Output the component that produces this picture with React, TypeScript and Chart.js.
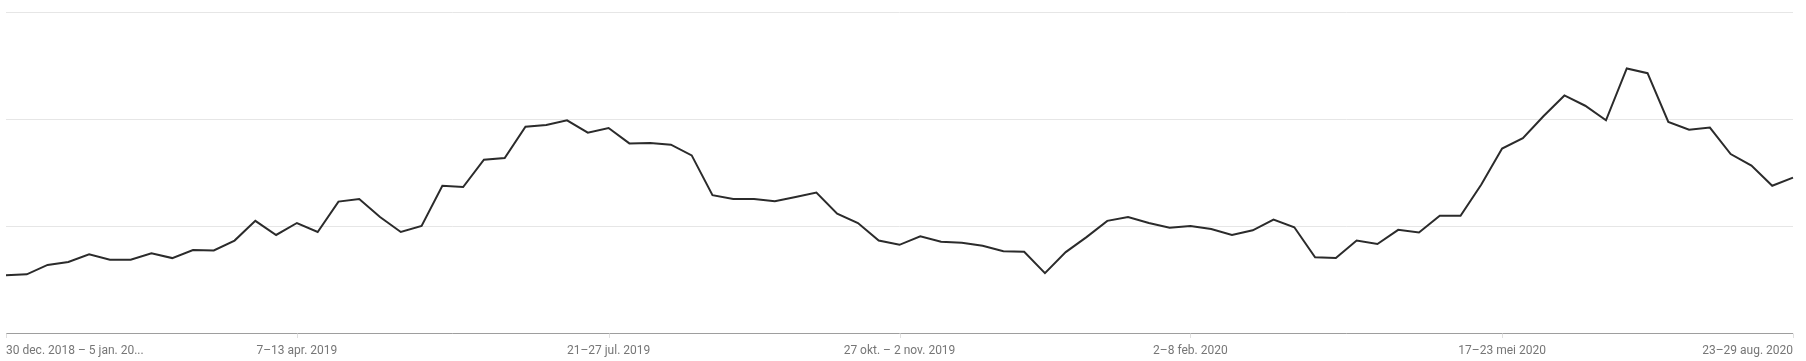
import React, { useEffect, useRef } from "react";
import { Chart, registerables } from "chart.js";

Chart.register(...registerables);

const weekStarts: string[] = (() => {
  const out: string[] = [];
  const d = new Date(Date.UTC(2018, 11, 30));
  for (let i = 0; i < 87; i++) {
    out.push(d.toISOString().slice(0, 10));
    d.setUTCDate(d.getUTCDate() + 7);
  }
  return out;
})();

const interest: number[] = [
  13.5, 13.7, 15.9, 16.6, 18.4, 17.1, 17.1, 18.6, 17.5, 19.4,
  19.3, 21.6, 26.2, 22.9, 25.7, 23.6, 30.7, 31.3, 27.1, 23.6,
  25.0, 34.4, 34.1, 40.5, 40.9, 48.2, 48.6, 49.7, 46.8, 47.9,
  44.3, 44.4, 44.0, 41.5, 32.2, 31.3, 31.3, 30.8, 31.8, 32.8,
  27.9, 25.7, 21.6, 20.6, 22.6, 21.3, 21.1, 20.4, 19.1, 19.0,
  14.0, 18.9, 22.4, 26.2, 27.1, 25.7, 24.6, 25.0, 24.3, 22.9,
  24.0, 26.5, 24.7, 17.7, 17.5, 21.6, 20.8, 24.1, 23.5, 27.4,
  27.4, 34.7, 43.1, 45.5, 50.7, 55.5, 53.1, 49.7, 61.8, 60.7,
  49.3, 47.5, 48.0, 41.8, 39.1, 34.4, 36.3,
];

const tickIndices: number[] = [0, 14, 29, 43, 57, 72, 86];
const tickLabels: string[] = [
  "30 dec. 2018 \u2013 5 jan. 20...",
  "7\u201313 apr. 2019",
  "21\u201327 jul. 2019",
  "27 okt. \u2013 2 nov. 2019",
  "2\u20138 feb. 2020",
  "17\u201323 mei 2020",
  "23\u201329 aug. 2020",
];

const xLabelsPlugin = {
  id: "xLabels",
  afterDraw(chart: any) {
    const ctx = chart.ctx;
    const xs = chart.scales.x;
    const bottom = chart.chartArea.bottom;
    ctx.save();
    ctx.strokeStyle = "#e0e0e0";
    ctx.lineWidth = 1;
    ctx.font = "12px Roboto";
    ctx.fillStyle = "#767676";
    ctx.textBaseline = "middle";
    tickIndices.forEach((idx, k) => {
      const px = Math.round(xs.getPixelForValue(idx)) + 0.5;
      ctx.beginPath();
      ctx.moveTo(px, bottom + 0.5);
      ctx.lineTo(px, bottom + 5);
      ctx.stroke();
      ctx.textAlign = k === 0 ? "left" : k === tickIndices.length - 1 ? "right" : "center";
      ctx.fillText(tickLabels[k], xs.getPixelForValue(idx), bottom + 18);
    });
    ctx.restore();
  },
};

export default function App() {
  const ref = useRef<HTMLCanvasElement | null>(null);
  useEffect(() => {
    if (!ref.current) return;
    const chart = new Chart(ref.current, {
      type: "line",
      data: {
        labels: weekStarts,
        datasets: [
          {
            data: interest,
            borderColor: "#2b2b2b",
            borderWidth: 2,
            pointRadius: 0,
            tension: 0,
            fill: false,
          },
        ],
      },
      options: {
        animation: false,
        responsive: true,
        maintainAspectRatio: false,
        layout: { padding: { left: 6, right: 13, top: 12, bottom: 28 } },
        plugins: { legend: { display: false }, tooltip: { enabled: false } },
        scales: {
          x: { display: false },
          y: {
            min: 0,
            max: 75,
            ticks: { display: false, stepSize: 25 },
            border: { display: false },
            grid: {
              drawTicks: false,
              color: (c: any) => (c.tick && c.tick.value === 0 ? "#9e9e9e" : "#e6e6e6"),
            },
          },
        },
      },
      plugins: [xLabelsPlugin],
    });
    return () => chart.destroy();
  }, []);
  return (
    <div style={{ position: "absolute", left: 0, top: 0, width: 1806, height: 361, background: "#fff" }}>
      <canvas ref={ref} />
    </div>
  );
}
